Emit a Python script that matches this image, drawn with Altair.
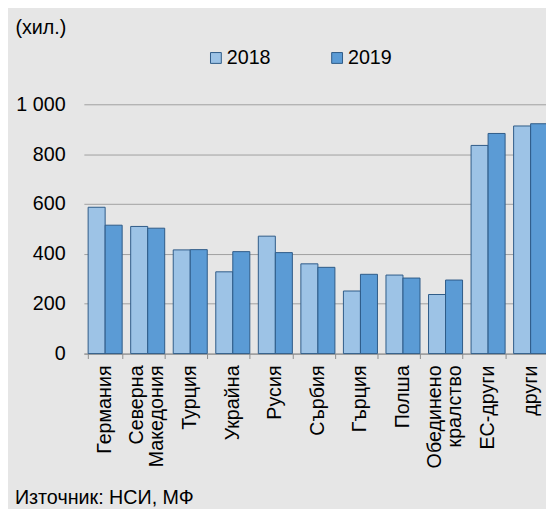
import altair as alt
import pandas as pd

categories = ["Германия", "Северна\nМакедония", "Турция", "Украйна", "Русия", "Сърбия",
              "Гърция", "Полша", "Обединено\nкралство", "ЕС-други", "други"]
years = ["2018", "2019"]
v2018 = [587, 510, 416, 328, 471, 360, 251, 315, 237, 835, 913]
v2019 = [515, 503, 417, 409, 405, 346, 318, 303, 295, 883, 922]
y_ticks = [0, 200, 400, 600, 800, 1000]
unit_label = "(хил.)"
source_label = "Източник: НСИ, МФ"

rows = []
for c, a, b in zip(categories, v2018, v2019):
    rows.append({"cat": c, "year": years[0], "value": a})
    rows.append({"cat": c, "year": years[1], "value": b})
df = pd.DataFrame(rows)

single = pd.DataFrame({"cat": [c for c in categories if "\n" not in c]})
multi = pd.DataFrame({"cat": [c for c in categories if "\n" in c]})

FONT = "Liberation Sans, Arial, sans-serif"
FS = 20

xscale = alt.Scale(domain=categories, paddingInner=0.2, paddingOuter=0.1, range=[0, 475])

bars = alt.Chart(df).mark_bar(stroke="#2E5A87", strokeWidth=1).encode(
    x=alt.X("cat:N", sort=categories, scale=xscale,
            axis=alt.Axis(title=None, labels=False, tickBand="extent", tickSize=5,
                          tickColor="#8C8C8C", domainColor="#8C8C8C", grid=False)),
    xOffset=alt.XOffset("year:N", sort=years),
    y=alt.Y("value:Q", scale=alt.Scale(domain=[0, 1000], nice=False),
            axis=alt.Axis(values=y_ticks, title=unit_label, titleAngle=0, titleAlign="left",
                          titleBaseline="middle", titleX=-70, titleY=-78, titleFontSize=FS,
                          titleFontWeight="normal", titleFont=FONT, titleColor="#000000",
                          labelExpr="replace(format(datum.value, ','), ',', ' ')",
                          labelFontSize=FS, labelColor="#000000", labelFont=FONT,
                          labelPadding=19, ticks=False, domain=False,
                          grid=True, gridColor="#A0A0A0", gridWidth=1)),
    color=alt.Color("year:N", sort=years,
                    scale=alt.Scale(domain=years, range=["#9DC3E6", "#5B9BD5"]),
                    legend=alt.Legend(title=None, orient="none", legendX=124, legendY=-57,
                                      direction="horizontal", symbolType="square", symbolSize=121,
                                      symbolStrokeColor="#2E5A87", symbolStrokeWidth=1,
                                      labelFontSize=FS, labelFont=FONT, labelColor="#000000",
                                      labelOffset=1, columnPadding=57)),
)

lab1 = alt.Chart(single).mark_text(
    angle=270, align="right", baseline="middle", fontSize=FS, font=FONT, color="#000000"
).encode(x=alt.X("cat:N", sort=categories, scale=xscale), y=alt.value(265), text="cat:N")

lab2 = alt.Chart(multi).mark_text(
    angle=270, align="right", baseline="line-bottom", lineBreak="\n", lineHeight=21,
    fontSize=FS, font=FONT, color="#000000"
).encode(x=alt.X("cat:N", sort=categories, scale=xscale), y=alt.value(265), text="cat:N")

src = alt.Chart(pd.DataFrame({"t": [source_label]})).mark_text(
    align="left", baseline="alphabetic", fontSize=FS, font=FONT, color="#000000"
).encode(text="t:N", x=alt.value(-70), y=alt.value(406))

chart = alt.layer(bars, lab1, lab2, src).properties(
    width=469, height=253,
    autosize=alt.AutoSizeParams(type="none"),
    padding={"left": 77, "top": 94, "right": 0, "bottom": 154},
    background="#E6E6E6",
).configure_view(stroke=None)

chart.save("out.html", embed_options={"renderer": "svg", "actions": False})
